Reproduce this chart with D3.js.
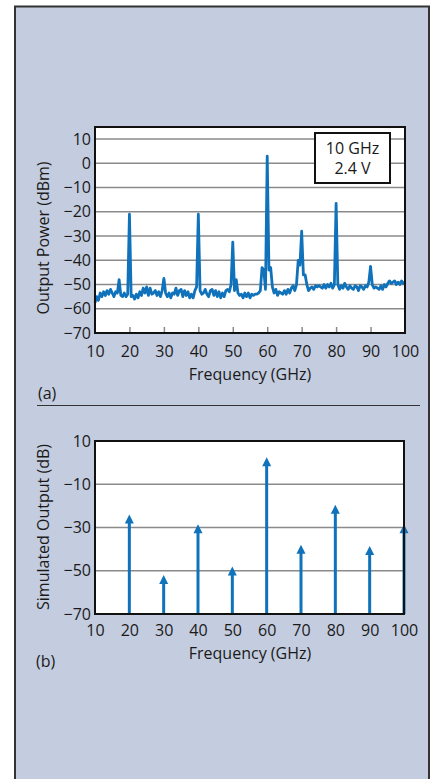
<!DOCTYPE html>
<html>
<head>
<meta charset="utf-8">
<script src="https://cdn.jsdelivr.net/npm/d3@7"></script>
<style>
  html, body { margin: 0; padding: 0; background: #fff; }
  svg { display: block; }
  text { font-family: "Open Sans", sans-serif; fill: #1a1a1a; }
</style>
</head>
<body>
<svg id="chart" width="438" height="779"></svg>
<script>
// ---------- DATA ----------
// (a) measured spectrum, 0.5 GHz sampling
const spectrumFreq = [
  10,10.5,11,11.5,12,12.5,13,13.5,14,14.5,15,15.5,16,16.5,17,17.5,18,18.5,19,19.5,
  20,20.5,21,21.5,22,22.5,23,23.5,24,24.5,25,25.5,26,26.5,27,27.5,28,28.5,29,29.5,
  30,30.5,31,31.5,32,32.5,33,33.5,34,34.5,35,35.5,36,36.5,37,37.5,38,38.5,39,39.5,
  40,40.5,41,41.5,42,42.5,43,43.5,44,44.5,45,45.5,46,46.5,47,47.5,48,48.5,49,49.5,
  50,50.5,51,51.5,52,52.5,53,53.5,54,54.5,55,55.5,56,56.5,57,57.5,58,58.5,59,59.5,
  60,60.5,61,61.5,62,62.5,63,63.5,64,64.5,65,65.5,66,66.5,67,67.5,68,68.5,69,69.5,
  70,70.5,71,71.5,72,72.5,73,73.5,74,74.5,75,75.5,76,76.5,77,77.5,78,78.5,79,79.5,
  80,80.5,81,81.5,82,82.5,83,83.5,84,84.5,85,85.5,86,86.5,87,87.5,88,88.5,89,89.5,
  90,90.5,91,91.5,92,92.5,93,93.5,94,94.5,95,95.5,96,96.5,97,97.5,98,98.5,99,99.5,
  100
];
const spectrumPower = [
  -57.5,-55,-56.5,-53.5,-55,-53,-54.5,-52.5,-54,-52,-53.5,-55,-53,-53.5,-48,-54.5,-55,-53.5,-55,-54,
  -21,-55,-54.5,-56,-54,-55.5,-53,-54.5,-51.5,-53.5,-51,-54.5,-51.5,-54,-53.5,-52.5,-54.5,-53,-55,-52.5,
  -47.5,-53.5,-55,-53.5,-55.5,-53.5,-54,-51.5,-54.5,-52.5,-52,-55,-52.5,-54.5,-53,-55.5,-54,-55.5,-52.5,-51,
  -21,-52.5,-54,-53.5,-52,-54,-55,-52.5,-52,-54.5,-52.5,-55,-53,-55.5,-53.5,-55,-52.5,-52,-53,-50,
  -32.5,-52.5,-48,-53.5,-54.5,-54,-55.5,-53.5,-55,-53.5,-55.5,-54,-54.5,-54,-54,-53.5,-52.5,-43,-44,-52,
  3,-44,-43,-51,-53.5,-52,-54.5,-53,-53.5,-54,-52.5,-54,-52,-53.5,-51.5,-50.5,-52.5,-50,-40,-42,
  -28,-46,-46,-50,-52.5,-51.5,-51,-52,-50.5,-51,-50.5,-51,-51.5,-50,-51.5,-50,-51,-49.5,-51.5,-50,
  -16.5,-50,-52,-50.5,-51.5,-49.5,-51,-52,-50.5,-51.5,-52,-50.5,-51,-52.5,-50.5,-51,-52,-50.5,-51,-49,
  -42.5,-50,-51.5,-51,-51.5,-52,-50.5,-52,-50,-51,-49.5,-48.5,-49.5,-49,-48.5,-50,-49,-50,-48.5,-49.5,
  -49
];
const xTicksA = [10,20,30,40,50,60,70,80,90,100];
const yTicksA = [10,0,-10,-20,-30,-40,-50,-60,-70];
const legendLines = ["10 GHz", "2.4 V"];

// (b) simulated harmonic output
const harmonicFreq = [20,30,40,50,60,70,80,90,100];
const harmonicLevel = [-24,-52,-28.5,-48,2.5,-38,-19.5,-38.5,-28.5];
const xTicksB = [10,20,30,40,50,60,70,80,90,100];
const yTicksB = [10,-10,-30,-50,-70];

// ---------- DRAW ----------
const svg = d3.select("#chart");
const blue = "#0f72ba";
const gridColor = "#8a8a8a";
const FONT = "'Open Sans', sans-serif";
const FS = 16;

// panel
svg.append("rect")
  .attr("x", 15).attr("y", 6.5).attr("width", 414).attr("height", 820)
  .attr("fill", "#c4ccdf").attr("stroke", "#333").attr("stroke-width", 2);

// ---- chart (a) ----
const A = {left: 95, right: 405, top: 127, bottom: 333};
const xA = d3.scaleLinear().domain([10,100]).range([A.left, A.right]);
const yA = d3.scaleLinear().domain([-70,15]).range([A.bottom, A.top]);

const gA = svg.append("g");
gA.append("rect").attr("x", A.left).attr("y", A.top)
  .attr("width", A.right - A.left).attr("height", A.bottom - A.top).attr("fill", "#fff");

// grid
gA.append("g").selectAll("line").data(yTicksA.filter(d => d > -70)).join("line")
  .attr("x1", A.left).attr("x2", A.right)
  .attr("y1", d => yA(d)).attr("y2", d => yA(d))
  .attr("stroke", gridColor).attr("stroke-width", 1.5);

// x axis (ticks inward)
const axA = d3.axisBottom(xA).tickValues(xTicksA).tickSize(-6).tickPadding(13).tickFormat(d3.format("d"));
const gxA = gA.append("g").attr("transform", `translate(0,${A.bottom})`).call(axA);
gxA.select(".domain").remove();
gxA.selectAll(".tick line").attr("stroke", gridColor).attr("stroke-width", 1.5)
  .filter(d => d === 10 || d === 100).remove();
gxA.selectAll(".tick text").attr("font-size", FS).attr("fill", "#1a1a1a")
  .style("font-family", FONT);

// y axis
const ayA = d3.axisLeft(yA).tickValues(yTicksA).tickSize(0).tickPadding(4)
  .tickFormat(d => d < 0 ? "\u2212" + Math.abs(d) : d);
const gyA = gA.append("g").attr("transform", `translate(${A.left},0)`).call(ayA);
gyA.select(".domain").remove();
gyA.selectAll(".tick text").attr("font-size", FS).attr("fill", "#1a1a1a")
  .style("font-family", FONT);

// spectrum line
const spectrum = spectrumFreq.map((f, i) => [f, spectrumPower[i]]);
gA.append("path").datum(spectrum)
  .attr("fill", "none").attr("stroke", blue).attr("stroke-width", 2.8)
  .attr("stroke-linejoin", "round")
  .attr("d", d3.line().x(d => xA(d[0])).y(d => yA(d[1])));

// frame
gA.append("rect").attr("x", A.left).attr("y", A.top)
  .attr("width", A.right - A.left).attr("height", A.bottom - A.top)
  .attr("fill", "none").attr("stroke", "#111").attr("stroke-width", 2);

// legend box
gA.append("rect").attr("x", 315).attr("y", 133).attr("width", 75).attr("height", 50)
  .attr("fill", "#fff").attr("stroke", "#111").attr("stroke-width", 2);
gA.selectAll("text.leg").data(legendLines).join("text").attr("class", "leg")
  .attr("x", 352.5).attr("y", (d, i) => 154 + i * 20)
  .attr("text-anchor", "middle").attr("font-size", FS).style("font-family", FONT).text(d => d);

// titles
svg.append("text").attr("transform", "translate(49,238) rotate(-90)")
  .attr("text-anchor", "middle").attr("font-size", FS).text("Output Power (dBm)");
svg.append("text").attr("x", 250).attr("y", 380)
  .attr("text-anchor", "middle").attr("font-size", FS).text("Frequency (GHz)");
svg.append("text").attr("x", 38).attr("y", 399).attr("font-size", FS).text("(a)");

// separator
svg.append("line").attr("x1", 37).attr("x2", 420).attr("y1", 405.5).attr("y2", 405.5)
  .attr("stroke", "#333").attr("stroke-width", 1.2);

// ---- chart (b) ----
const B = {left: 95, right: 404, top: 441, bottom: 614};
const xB = d3.scaleLinear().domain([10,100]).range([B.left, B.right]);
const yB = d3.scaleLinear().domain([-70,10]).range([B.bottom, B.top]);

const gB = svg.append("g");
gB.append("rect").attr("x", B.left).attr("y", B.top)
  .attr("width", B.right - B.left).attr("height", B.bottom - B.top).attr("fill", "#fff");

gB.append("g").selectAll("line").data(yTicksB.filter(d => d > -70 && d < 10)).join("line")
  .attr("x1", B.left).attr("x2", B.right)
  .attr("y1", d => yB(d)).attr("y2", d => yB(d))
  .attr("stroke", gridColor).attr("stroke-width", 1.5);

const axB = d3.axisBottom(xB).tickValues(xTicksB).tickSize(0).tickPadding(11).tickFormat(d3.format("d"));
const gxB = gB.append("g").attr("transform", `translate(0,${B.bottom})`).call(axB);
gxB.select(".domain").remove();
gxB.selectAll(".tick text").attr("font-size", FS).attr("fill", "#1a1a1a")
  .style("font-family", FONT);

const ayB = d3.axisLeft(yB).tickValues(yTicksB).tickSize(0).tickPadding(4)
  .tickFormat(d => d < 0 ? "\u2212" + Math.abs(d) : d);
const gyB = gB.append("g").attr("transform", `translate(${B.left},0)`).call(ayB);
gyB.select(".domain").remove();
gyB.selectAll(".tick text").attr("font-size", FS).attr("fill", "#1a1a1a")
  .style("font-family", FONT);

const harmonics = harmonicFreq.map((f, i) => ({f, v: harmonicLevel[i]}));
// stems
gB.append("g").selectAll("line").data(harmonics).join("line")
  .attr("x1", d => xB(d.f)).attr("x2", d => xB(d.f))
  .attr("y1", B.bottom).attr("y2", d => yB(d.v) + 6)
  .attr("stroke", blue).attr("stroke-width", 3);
// arrow heads
gB.append("g").selectAll("path").data(harmonics).join("path")
  .attr("d", d => {
    const x = xB(d.f), y = yB(d.v);
    return `M${x},${y} L${x - 4.5},${y + 9} L${x + 4.5},${y + 9} Z`;
  })
  .attr("fill", blue);

gB.append("rect").attr("x", B.left).attr("y", B.top)
  .attr("width", B.right - B.left).attr("height", B.bottom - B.top)
  .attr("fill", "none").attr("stroke", "#111").attr("stroke-width", 2);

svg.append("text").attr("transform", "translate(49,527) rotate(-90)")
  .attr("text-anchor", "middle").attr("font-size", FS).text("Simulated Output (dB)");
svg.append("text").attr("x", 250).attr("y", 659)
  .attr("text-anchor", "middle").attr("font-size", FS).text("Frequency (GHz)");
svg.append("text").attr("x", 36).attr("y", 667).attr("font-size", FS).text("(b)");
</script>
</body>
</html>
